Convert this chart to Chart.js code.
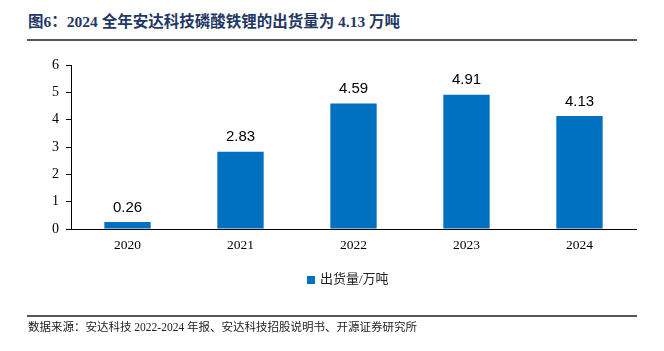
<!DOCTYPE html>
<html><head><meta charset="utf-8">
<script src="https://cdn.jsdelivr.net/npm/chart.js@4/dist/chart.umd.min.js"></script>
<style>
body{margin:0;width:664px;height:351px;background:#fff;position:relative;overflow:hidden;font-family:"Liberation Serif","Noto Sans CJK SC",serif;}
#title{position:absolute;left:28px;top:9px;font-size:15.5px;font-weight:bold;color:#1F3864;white-space:nowrap;}
.line{position:absolute;left:27px;width:610px;height:2px;background:#555;}
#src{position:absolute;left:28px;top:318px;font-size:11.5px;color:#222;white-space:nowrap;}
#legend{position:absolute;left:307px;top:268px;font-size:13px;color:#222;white-space:nowrap;}
#legend span.box{display:inline-block;width:8px;height:8px;background:#0070C0;margin-right:5px;vertical-align:middle;}
canvas{position:absolute;left:0;top:0;}
</style></head>
<body>
<div id="title">图6：2024 全年安达科技磷酸铁锂的出货量为 4.13 万吨</div>
<div class="line" style="top:39px"></div>
<div style="position:absolute;left:0;top:0;width:664px;height:351px"><canvas id="c" width="664" height="351"></canvas></div>
<div id="legend"><span class="box"></span>出货量/万吨</div>
<div class="line" style="top:315px"></div>
<div id="src">数据来源：安达科技 2022-2024 年报、安达科技招股说明书、开源证券研究所</div>
<script>
const categories = ["2020","2021","2022","2023","2024"];
const shipments = [0.26, 2.83, 4.59, 4.91, 4.13];
const yTicks = [0,1,2,3,4,5,6];

const labelPlugin = {
  id:'labels',
  afterDatasetsDraw(chart){
    const ctx = chart.ctx;
    const meta = chart.getDatasetMeta(0);
    ctx.save();
    ctx.font = '15px "Liberation Sans", Arial, sans-serif';
    ctx.fillStyle = '#000';
    ctx.textAlign = 'center';
    ctx.textBaseline = 'bottom';
    meta.data.forEach((bar,i)=>{
      ctx.fillText(shipments[i].toFixed(2), bar.x, bar.y - 7);
    });
    ctx.restore();
  }
};

new Chart(document.getElementById('c'), {
  type:'bar',
  data:{labels:categories, datasets:[{label:'出货量/万吨', data:shipments, backgroundColor:'#0070C0', barPercentage:0.82, categoryPercentage:0.5}]},
  options:{
    responsive:false, animation:false,
    layout:{padding:{left:0,right:28,top:65,bottom:97}},
    plugins:{legend:{display:false}, tooltip:{enabled:false}},
    scales:{
      x:{
        grid:{display:false, drawTicks:false},
        border:{display:true,color:'#000',width:1},
        ticks:{color:'#000',font:{family:'"Liberation Serif", serif',size:13.5},padding:8},
        afterFit(s){s.height=25;}
      },
      y:{
        min:0,max:6,
        afterBuildTicks(s){s.ticks = yTicks.map(v=>({value:v}));},
        grid:{drawOnChartArea:false, drawTicks:true, tickLength:5, color:'#000'},
        border:{display:true,color:'#000',width:1},
        ticks:{color:'#000',font:{family:'"Liberation Serif", serif',size:14},padding:7},
        afterFit(s){s.width=71;}
      }
    }
  },
  plugins:[labelPlugin]
});
</script>
</body></html>
